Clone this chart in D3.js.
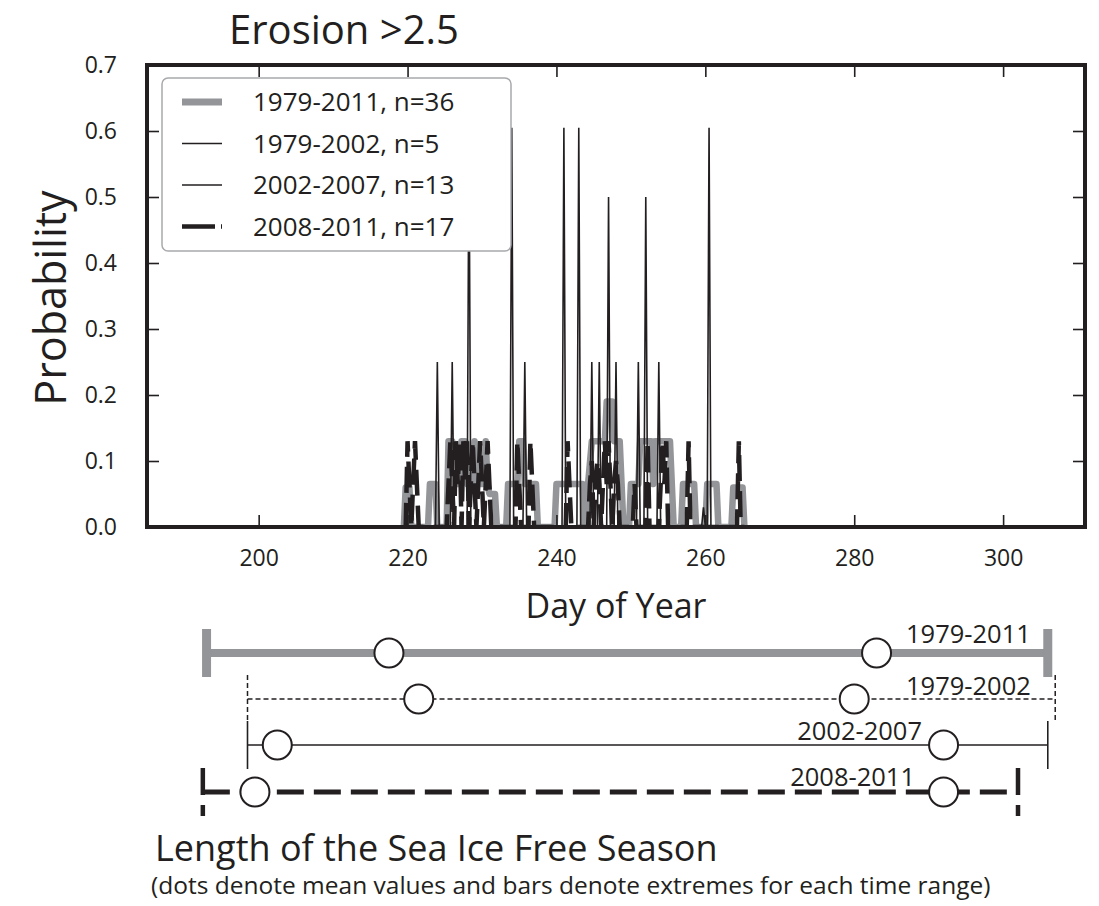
<!DOCTYPE html>
<html lang="en">
<head>
<meta charset="UTF-8">
<script src="https://d3js.org/d3.v7.min.js"></script>
<title>Erosion >2.5</title>
<style>
  body { margin: 0; background: #fff; }
  text { font-family: "Open Sans", sans-serif; fill: #231f20; }
</style>
</head>
<body>
<script>
var width = 1099, height = 906;
var ink = "#231f20", grey = "#939598";

// axes
var xTicks = [200, 220, 240, 260, 280, 300];
var yTicks = [0, 0.1, 0.2, 0.3, 0.4, 0.5, 0.6, 0.7];
var legendNames = ["1979-2011, n=36", "1979-2002, n=5", "2002-2007, n=13", "2008-2011, n=17"];

// 1979-2011, n=36 : [day, probability] vertices (6-hourly)
var prob7911 = [
  [219.5,0],[219.75,0.06],[220.25,0.06],[220.5,0],
  [222.75,0],[223,0.065],[223.75,0.065],[224,0],
  [225.25,0],[225.5,0.13],[226,0.13],[226.25,0.065],[227,0.065],[227.25,0.13],[227.75,0.13],[228,0.065],
  [228.75,0.065],[229,0.13],[229.5,0.065],[230.25,0.065],[230.5,0.13],[230.75,0.065],[231,0.05],[231.75,0.05],[232,0],
  [233.25,0],[233.5,0.065],[234.75,0.065],[235,0.13],[235.5,0.13],[235.75,0.065],[237.25,0.065],[237.5,0],
  [239.75,0],[240,0.065],[243.5,0.065],[243.75,0],
  [244,0],[244.25,0.065],[244.75,0.13],[246.5,0.13],[246.75,0.19],[247.5,0.19],[247.75,0.13],[248.5,0.13],[248.75,0.065],[249,0],
  [249.75,0],[250,0.065],[251,0.065],[251.25,0.13],[252.75,0.13],[253,0.065],[253.25,0.13],[255.25,0.13],[255.5,0.065],[255.75,0],
  [256.75,0],[257,0.065],[258.5,0.065],[258.75,0],
  [260,0],[260.25,0.065],[261.5,0.065],[261.75,0],
  [263.5,0],[263.75,0.06],[265,0.06],[265.25,0]
];

// 1979-2002, n=5 : spike days and values
var days7902 = [228.25, 234, 241, 243, 260.5];
var vals7902 = [0.6, 0.605, 0.605, 0.605, 0.605];

// 2002-2007, n=13 : spike days and values
var days0207 = [224, 226, 235.75, 244.75, 245.75, 247, 248, 251, 252, 253.75, 259.75];
var vals0207 = [0.25, 0.25, 0.25, 0.25, 0.25, 0.5, 0.25, 0.25, 0.5, 0.25, 0.03];

// 2008-2011, n=17 : [day, probability] vertices
var prob0811 = [
  [219.5,0],[219.75,0],[220,0.13],[220.25,0.065],[220.5,0],[220.75,0.065],[221,0.13],[221.25,0.065],[221.5,0],
  [225.25,0],[225.5,0.065],[225.75,0.13],[226,0.065],[226.25,0],[226.5,0.13],[226.75,0.065],[227,0.13],[227.25,0],
  [227.5,0.13],[227.75,0.065],[228,0.13],[228.25,0],[228.5,0.065],[228.75,0.13],[229,0.065],[229.25,0],
  [229.5,0.065],[229.75,0.13],[230,0.065],[230.25,0],[230.5,0.065],[230.75,0.13],[231,0.065],[231.25,0],
  [234.5,0],[234.75,0.13],[235,0.065],[235.25,0],[236.25,0],[236.5,0.13],[236.75,0.065],[237,0],
  [241.25,0],[241.5,0.13],[241.75,0.065],[242,0],
  [244.25,0],[244.5,0.065],[244.75,0.1],[245,0],[245.25,0.065],[245.5,0.1],[245.75,0.065],[246,0],
  [246.25,0.065],[246.5,0.13],[246.75,0.065],[247,0.13],[247.25,0.065],[247.5,0],[247.75,0.065],[248,0.1],[248.25,0.065],[248.5,0],
  [250.25,0],[250.5,0.065],[250.75,0],[252,0],[252.25,0.13],[252.5,0],
  [253.75,0],[254,0.065],[254.25,0.13],[254.5,0.065],[254.75,0.13],[255,0],
  [257.5,0],[257.75,0.13],[258,0],
  [264.25,0],[264.5,0.13],[264.75,0],[265.25,0]
];

// length of the sea ice free season (day of year)
var seasonNames = ["1979-2011", "1979-2002", "2002-2007", "2008-2011"];
var seasonMin = [193, 198.5, 198.5, 192.5];
var seasonMax = [306, 307, 306, 302];
var meanStart = [217.5, 221.5, 202.5, 199.5];
var meanEnd = [283, 280, 292, 292];

var svg = d3.select("body").append("svg")
  .attr("width", width)
  .attr("height", height);

var x = d3.scaleLinear().domain([185, 311]).range([147, 1085]);
var y = d3.scaleLinear().domain([0, 0.7]).range([527, 65]);

var line = d3.line()
  .x(function (d) { return x(d[0]); })
  .y(function (d) { return y(d[1]); });

function spikes(days, vals) {
  var pts = [[219.5, 0]];
  days.forEach(function (d, i) {
    pts.push([d - 0.25, 0], [d, vals[i]], [d + 0.25, 0]);
  });
  pts.push([265.25, 0]);
  return pts;
}

svg.append("clipPath").attr("id", "plot")
  .append("rect")
  .attr("x", x(185)).attr("y", y(0.7))
  .attr("width", x(311) - x(185)).attr("height", y(0) - y(0.7));

var plot = svg.append("g").attr("clip-path", "url(#plot)");

plot.append("path")
  .attr("d", line(prob7911))
  .attr("fill", "none").attr("stroke", grey).attr("stroke-width", 6.5)
  .attr("stroke-linejoin", "round").attr("stroke-linecap", "round");

plot.append("path")
  .attr("d", line(spikes(days7902, vals7902)))
  .attr("fill", "none").attr("stroke", ink).attr("stroke-width", 1.6);

plot.append("path")
  .attr("d", line(spikes(days0207, vals0207)))
  .attr("fill", "none").attr("stroke", ink).attr("stroke-width", 1.6);

plot.append("path")
  .attr("d", line(prob0811))
  .attr("fill", "none").attr("stroke", ink).attr("stroke-width", 4.5)
  .attr("stroke-dasharray", "26,10");

// axes
var fmt = d3.format(".1f");
var gx = svg.append("g").attr("transform", "translate(0," + y(0) + ")")
  .call(d3.axisBottom(x).tickValues(xTicks).tickSize(-12).tickPadding(23));
var gxt = svg.append("g").attr("transform", "translate(0," + y(0.7) + ")")
  .call(d3.axisTop(x).tickValues(xTicks).tickSize(-12).tickFormat(""));
var gy = svg.append("g").attr("transform", "translate(" + x(185) + ",0)")
  .call(d3.axisLeft(y).tickValues(yTicks).tickSize(-12).tickPadding(30).tickFormat(fmt));
var gyr = svg.append("g").attr("transform", "translate(" + x(311) + ",0)")
  .call(d3.axisRight(y).tickValues(yTicks).tickSize(-12).tickFormat(""));

[gx, gxt, gy, gyr].forEach(function (g) {
  g.select(".domain").remove();
  g.selectAll(".tick line").attr("stroke", ink).attr("stroke-width", 1.6);
  g.selectAll(".tick text").attr("font-size", 23).attr("font-family", "Open Sans").attr("fill", ink);
});

svg.append("rect")
  .attr("x", x(185)).attr("y", y(0.7))
  .attr("width", x(311) - x(185)).attr("height", y(0) - y(0.7))
  .attr("fill", "none").attr("stroke", ink).attr("stroke-width", 4);

// legend
var legend = svg.append("g");
legend.append("rect")
  .attr("x", 162).attr("y", 78).attr("width", 349).attr("height", 173).attr("rx", 6)
  .attr("fill", "#fff").attr("stroke", "#a7a9ac").attr("stroke-width", 1.5);

var legendStyle = [
  { stroke: grey, width: 7, dash: null },
  { stroke: ink, width: 1.6, dash: null },
  { stroke: ink, width: 1.6, dash: null },
  { stroke: ink, width: 4.5, dash: "33,6" }
];
var rows = legend.selectAll("g.row").data(legendNames).enter().append("g")
  .attr("class", "row")
  .attr("transform", function (d, i) { return "translate(0," + (102 + i * 41.5) + ")"; });
rows.append("line")
  .attr("x1", 182).attr("x2", 222)
  .attr("stroke", function (d, i) { return legendStyle[i].stroke; })
  .attr("stroke-width", function (d, i) { return legendStyle[i].width; })
  .attr("stroke-dasharray", function (d, i) { return legendStyle[i].dash; });
rows.append("text")
  .attr("x", 253).attr("dy", "0.36em")
  .attr("font-size", 26)
  .text(function (d) { return d; });

// titles
svg.append("text").attr("x", 229).attr("y", 44).attr("font-size", 40).text("Erosion >2.5");
svg.append("text").attr("x", x(248)).attr("y", 618).attr("text-anchor", "middle")
  .attr("font-size", 34).text("Day of Year");
svg.append("text")
  .attr("transform", "translate(66,298) rotate(-90)")
  .attr("text-anchor", "middle").attr("font-size", 43).text("Probability");

// sea ice free season panel
var rowY = [653, 699, 745, 792];
var seasonStyle = [
  { stroke: grey, width: 8, cap: 9, dash: null },
  { stroke: ink, width: 1.5, cap: 1.5, dash: "5,3" },
  { stroke: ink, width: 1.6, cap: 1.6, dash: null },
  { stroke: ink, width: 5, cap: 4.5, dash: "27,10" }
];
var labelPos = [
  { x: 906, y: 643, anchor: "start" },
  { x: 906, y: 695, anchor: "start" },
  { x: 922, y: 740, anchor: "end" },
  { x: 915, y: 786, anchor: "end" }
];

var season = svg.append("g");
seasonNames.forEach(function (name, i) {
  var s = seasonStyle[i], yy = rowY[i];
  season.append("line")
    .attr("x1", x(seasonMin[i])).attr("x2", x(seasonMax[i]))
    .attr("y1", yy).attr("y2", yy)
    .attr("stroke", s.stroke).attr("stroke-width", s.width)
    .attr("stroke-dasharray", s.dash);
  [seasonMin[i], seasonMax[i]].forEach(function (d) {
    season.append("line")
      .attr("x1", x(d)).attr("x2", x(d))
      .attr("y1", yy - 24).attr("y2", yy + 24)
      .attr("stroke", s.stroke).attr("stroke-width", s.cap)
      .attr("stroke-dasharray", s.dash);
  });
  season.append("text")
    .attr("x", labelPos[i].x).attr("y", labelPos[i].y)
    .attr("text-anchor", labelPos[i].anchor)
    .attr("font-size", 25.5).text(name);
  [meanStart[i], meanEnd[i]].forEach(function (d) {
    season.append("circle")
      .attr("cx", x(d)).attr("cy", yy).attr("r", 14.5)
      .attr("fill", "#fff").attr("stroke", ink).attr("stroke-width", 2);
  });
});

svg.append("text").attr("x", 155).attr("y", 861).attr("font-size", 36)
  .text("Length of the Sea Ice Free Season");
svg.append("text").attr("x", 151).attr("y", 894).attr("font-size", 24.5)
  .text("(dots denote mean values and bars denote extremes for each time range)");
</script>
</body>
</html>
